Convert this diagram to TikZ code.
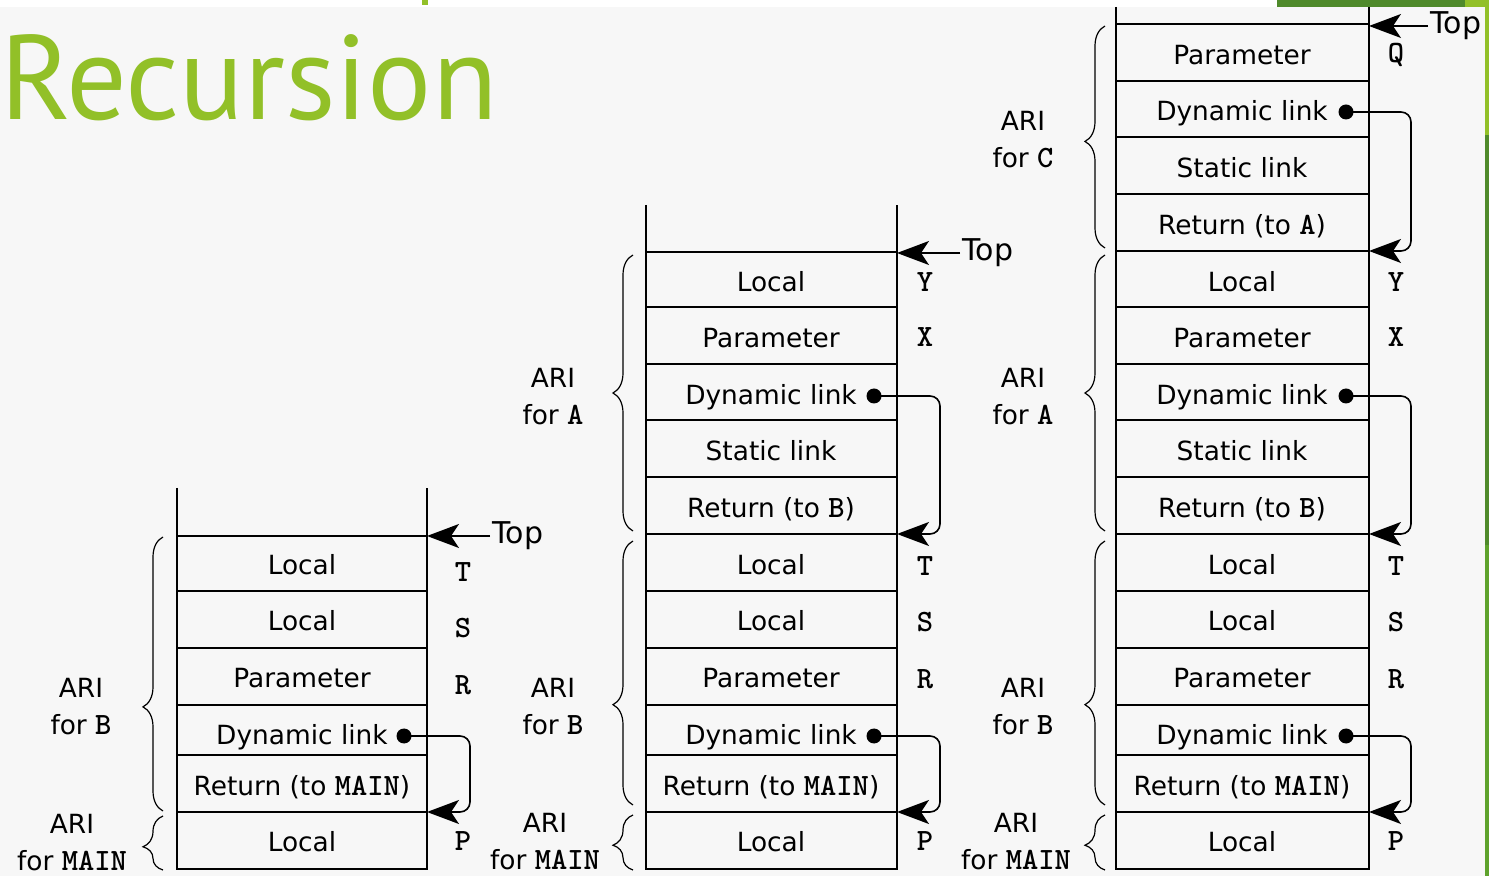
\documentclass[tikz,border=0pt]{standalone}
\usepackage{fontspec}
\setmainfont{DejaVu Sans}
\newfontfamily\titlefamily{PT Sans}
\usepackage{tikz}
\usetikzlibrary{calc,arrows.meta,decorations.pathreplacing}
\definecolor{bggrey}{HTML}{F7F7F7}
\definecolor{titlegreen}{HTML}{92C028}
\definecolor{darkgreen}{HTML}{4F8A2B}
\definecolor{midgreen}{HTML}{5EA22C}
\newcommand{\cellfont}{\fontsize{13.2}{18.5}\selectfont}
\newcommand{\regfont}{\fontsize{15.5}{16}\selectfont\ttfamily\bfseries}
\newcommand{\topfont}{\fontsize{15}{16}\selectfont}
\newcommand{\code}[1]{{\fontsize{15.5}{16}\selectfont\ttfamily\bfseries #1}}

\begin{document}
\begin{tikzpicture}[x=0.5pt,y=-0.5pt,
  box/.style={line width=1pt},
  cell/.style={font=\cellfont,text height=1.5ex,text depth=.25ex,inner sep=0pt,yshift=-1.5pt},
  reg/.style={font=\regfont,inner sep=0pt},
  ari/.style={font=\cellfont,align=center,inner sep=0pt},
  toplbl/.style={font=\topfont,anchor=west,text height=0.73em,text depth=0pt,inner sep=1pt},
  ptr/.style={line width=0.8pt,-{Stealth[length=16pt,width=12pt,inset=4pt]}},
  dlink/.style={ptr,rounded corners=5pt},
  dot/.style={circle,fill,inner sep=0pt,minimum size=7.5pt},
  aribrace/.style={decorate,decoration={brace,amplitude=10pt,aspect=#1},line width=0.6pt}]
\useasboundingbox (0,0) rectangle (1489,876);
% slide background
\fill[white] (0,0) rectangle (1489,876);
\fill[bggrey] (0,7) rectangle (1485,876);
\fill[titlegreen] (422,0) rectangle (428,5);
\fill[darkgreen] (1277,0) rectangle (1465,7);
\fill[titlegreen] (1465,0) rectangle (1489,7);
\fill[titlegreen] (1485,7) rectangle (1489,135);
\fill[darkgreen] (1485,135) rectangle (1489,545);
\fill[midgreen] (1485,545) rectangle (1489,876);
\node[anchor=base west,inner sep=0pt,text=titlegreen,font=\titlefamily\fontsize{60}{62}\selectfont] (title) at (0,120) {Recursion};

% ---- stack 1: B called from MAIN
\draw[box] (177,488) -- (177,869) -- (427,869) -- (427,488);
\foreach \y in {536,591,648,705,755,812}
  \draw[box] (177,\y) -- (427,\y);
\node[cell] (b1t) at (302,565) {Local};
\node[cell] (b1s) at (302,621) {Local};
\node[cell] (b1r) at (302,678) {Parameter};
\node[cell] (b1dl) at (302,735) {Dynamic link};
\node[cell] (b1ret) at (302,786) {Return (to \code{MAIN})};
\node[cell] (b1p) at (302,842) {Local};
\node[reg] (b1vt) at (463,572) {T};
\node[reg] (b1vs) at (463,628) {S};
\node[reg] (b1vr) at (463,685) {R};
\node[reg] (b1vp) at (463,841) {P};
\node[dot] (b1dot) at (404,736) {};
\coordinate (b1to) at (427,812);
\draw[dlink] (b1dot.center) -| ($(b1to)+(43,0)$) -- (b1to);
\node[toplbl] (b1top) at (490,536) {Top};
\coordinate (b1tip) at (427,536);
\draw[ptr] (b1top.west) -- (b1tip);
\draw[aribrace=0.38] (163,811) -- (163,537);
\draw[aribrace=0.43] (163,870) -- (163,816);
\node[ari] (b1arib) at (81,707) {ARI\\for \code{B}};
\node[ari] (b1arim) at (72,843) {ARI\\for \code{MAIN}};

% ---- stack 2: A called from B
\draw[box] (646,205) -- (646,869) -- (897,869) -- (897,205);
\foreach \y in {252,307,364,420,477,534,591,648,705,755,812}
  \draw[box] (646,\y) -- (897,\y);
\node[cell] (a2y) at (771,282) {Local};
\node[cell] (a2x) at (771,338) {Parameter};
\node[cell] (a2dl) at (771,395) {Dynamic link};
\node[cell] (a2sl) at (771,451) {Static link};
\node[cell] (a2ret) at (771,508) {Return (to \code{B})};
\node[cell] (b2t) at (771,565) {Local};
\node[cell] (b2s) at (771,621) {Local};
\node[cell] (b2r) at (771,678) {Parameter};
\node[cell] (b2dl) at (771,735) {Dynamic link};
\node[cell] (b2ret) at (771,786) {Return (to \code{MAIN})};
\node[cell] (b2p) at (771,842) {Local};
\node[reg] (a2vy) at (925,282) {Y};
\node[reg] (a2vx) at (925,337) {X};
\node[reg] (b2vt) at (925,566) {T};
\node[reg] (b2vs) at (925,622) {S};
\node[reg] (b2vr) at (925,679) {R};
\node[reg] (b2vp) at (925,841) {P};
\node[dot] (a2dot) at (874,396) {};
\coordinate (a2to) at (897,534);
\draw[dlink] (a2dot.center) -| ($(a2to)+(43,0)$) -- (a2to);
\node[dot] (b2dot) at (874,736) {};
\coordinate (b2to) at (897,812);
\draw[dlink] (b2dot.center) -| ($(b2to)+(43,0)$) -- (b2to);
\node[toplbl] (a2top) at (960,253) {Top};
\coordinate (a2tip) at (897,253);
\draw[ptr] (a2top.west) -- (a2tip);
\draw[aribrace=0.5] (633,531) -- (633,255);
\draw[aribrace=0.38] (633,805) -- (633,541);
\draw[aribrace=0.45] (633,870) -- (633,815);
\node[ari] (a2aria) at (553,397) {ARI\\for \code{A}};
\node[ari] (b2arib) at (553,707) {ARI\\for \code{B}};
\node[ari] (b2arim) at (545,842) {ARI\\for \code{MAIN}};

% ---- stack 3: C called from A
\draw[box] (1116,7) -- (1116,869) -- (1369,869) -- (1369,7);
\foreach \y in {24,81,137,194,251,307,364,420,477,534,591,648,705,755,812}
  \draw[box] (1116,\y) -- (1369,\y);
\node[cell] (c3q) at (1242,55) {Parameter};
\node[cell] (c3dl) at (1242,111) {Dynamic link};
\node[cell] (c3sl) at (1242,168) {Static link};
\node[cell] (c3ret) at (1242,225) {Return (to \code{A})};
\node[cell] (a3y) at (1242,282) {Local};
\node[cell] (a3x) at (1242,338) {Parameter};
\node[cell] (a3dl) at (1242,395) {Dynamic link};
\node[cell] (a3sl) at (1242,451) {Static link};
\node[cell] (a3ret) at (1242,508) {Return (to \code{B})};
\node[cell] (b3t) at (1242,565) {Local};
\node[cell] (b3s) at (1242,621) {Local};
\node[cell] (b3r) at (1242,678) {Parameter};
\node[cell] (b3dl) at (1242,735) {Dynamic link};
\node[cell] (b3ret) at (1242,786) {Return (to \code{MAIN})};
\node[cell] (b3p) at (1242,842) {Local};
\node[reg] (c3vq) at (1396,55) {Q};
\node[reg] (a3vy) at (1396,282) {Y};
\node[reg] (a3vx) at (1396,337) {X};
\node[reg] (b3vt) at (1396,566) {T};
\node[reg] (b3vs) at (1396,622) {S};
\node[reg] (b3vr) at (1396,679) {R};
\node[reg] (b3vp) at (1396,841) {P};
\node[dot] (c3dot) at (1346,112) {};
\coordinate (c3to) at (1369,251);
\draw[dlink] (c3dot.center) -| ($(c3to)+(42,0)$) -- (c3to);
\node[dot] (a3dot) at (1346,396) {};
\coordinate (a3to) at (1369,534);
\draw[dlink] (a3dot.center) -| ($(a3to)+(42,0)$) -- (a3to);
\node[dot] (b3dot) at (1346,736) {};
\coordinate (b3to) at (1369,812);
\draw[dlink] (b3dot.center) -| ($(b3to)+(42,0)$) -- (b3to);
\node[toplbl] (c3top) at (1428,26) {Top};
\coordinate (c3tip) at (1369,26);
\draw[ptr] (c3top.west) -- (c3tip);
\draw[aribrace=0.48] (1105,248) -- (1105,26);
\draw[aribrace=0.5] (1105,531) -- (1105,255);
\draw[aribrace=0.38] (1105,805) -- (1105,541);
\draw[aribrace=0.45] (1105,870) -- (1105,815);
\node[ari] (c3aric) at (1023,140) {ARI\\for \code{C}};
\node[ari] (a3aria) at (1023,397) {ARI\\for \code{A}};
\node[ari] (b3arib) at (1023,707) {ARI\\for \code{B}};
\node[ari] (b3arim) at (1016,842) {ARI\\for \code{MAIN}};
\end{tikzpicture}
\end{document}
